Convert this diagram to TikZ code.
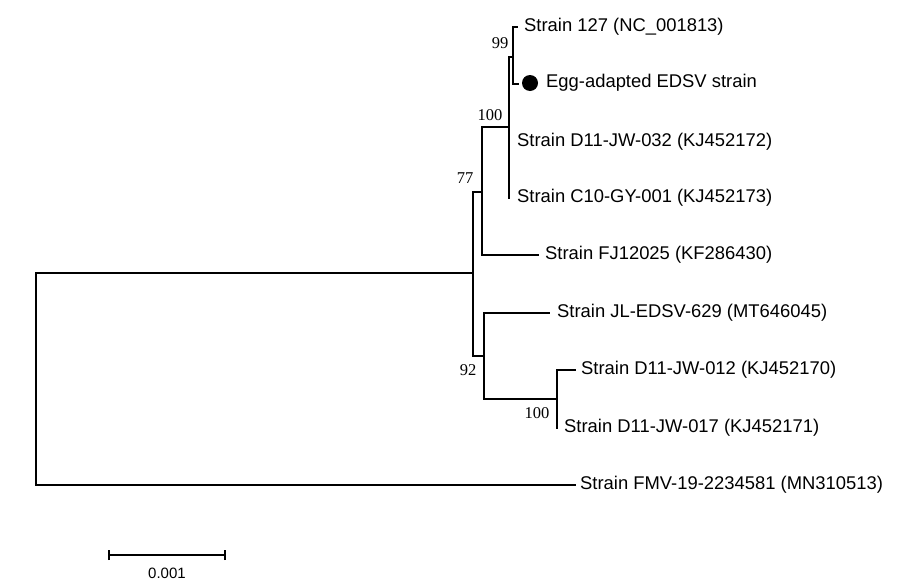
\documentclass[tikz,border=0pt]{standalone}
\usepackage{fontspec}
\setmainfont{Liberation Sans}
\newfontfamily\tnr{Liberation Serif}
\begin{document}
\begin{tikzpicture}[x=1pt,y=-1pt,
  br/.style={line width=1.1pt, line cap=rect},
  leaf/.style={anchor=west, inner xsep=7pt, inner ysep=0pt, font=\fontsize{18.4}{22}\selectfont},
  boot/.style={inner sep=0pt, font=\tnr\fontsize{16.5}{19}\selectfont}]
\useasboundingbox (0,0) rectangle (903,581);
\fill[white] (0,0) rectangle (903,581);
% internal nodes
\coordinate (root) at (36,379);
\coordinate (n1) at (473,273);
\coordinate (n77) at (482,192);
\coordinate (n100a) at (509,127);
\coordinate (n99) at (513,57);
\coordinate (n92) at (484,356);
\coordinate (n100b) at (557,399);
% leaves
\node[leaf] (t127) at (517,27) {Strain 127 (NC\_001813)};
\coordinate (eggtip) at (518,84);
\node[circle, fill=black, minimum size=16pt, inner sep=0pt] (dot) at (530,83) {};
\node[leaf, inner xsep=0pt] (tegg) at (546,83) {Egg-adapted EDSV strain};
\node[leaf, inner xsep=8pt] (t032) at (509,142) {Strain D11-JW-032 (KJ452172)};
\node[leaf, inner xsep=8pt] (t173) at (509,198) {Strain C10-GY-001 (KJ452173)};
\node[leaf] (tfj) at (538,255) {Strain FJ12025 (KF286430)};
\node[leaf, inner xsep=8pt] (tjl) at (549,313) {Strain JL-EDSV-629 (MT646045)};
\node[leaf, inner xsep=6pt] (t012) at (575,370) {Strain D11-JW-012 (KJ452170)};
\node[leaf] (t017) at (557,428) {Strain D11-JW-017 (KJ452171)};
\node[leaf, inner xsep=5pt] (tfmv) at (575,485) {Strain FMV-19-2234581 (MN310513)};
% branches
\draw[br] (root) |- (n1);
\draw[br] (root) |- (tfmv.west);
\draw[br] (n1) |- (n77);
\draw[br] (n1) |- (n92);
\draw[br] (n77) |- (n100a);
\draw[br] (n77) |- (tfj.west);
\draw[br] (n100a) |- (n99);
\draw[br] (n100a) |- (t032.west);
\draw[br] (n100a) |- (t173.west);
\draw[br] (n99) |- (t127.west);
\draw[br] (n99) |- (eggtip);
\draw[br] (n92) |- (tjl.west);
\draw[br] (n92) |- (n100b);
\draw[br] (n100b) |- (t012.west);
\draw[br] (n100b) |- (t017.west);
% bootstrap values
\node[boot] (b99) at (500,43) {99};
\node[boot] (b100a) at (490,115) {100};
\node[boot] (b77) at (465,178) {77};
\node[boot] (b92) at (468,370) {92};
\node[boot] (b100b) at (537,413) {100};
% scale bar
\coordinate (sa) at (109,555);
\coordinate (sb) at (225,555);
\draw[br, line cap=butt] (sa) -- (sb);
\draw[br, line cap=butt] ([yshift=-5]sa) -- ([yshift=5]sa);
\draw[br, line cap=butt] ([yshift=-5]sb) -- ([yshift=5]sb);
\node[inner sep=0pt, font=\fontsize{15}{17}\selectfont] (sl) at (167,573) {0.001};
\end{tikzpicture}
\end{document}
